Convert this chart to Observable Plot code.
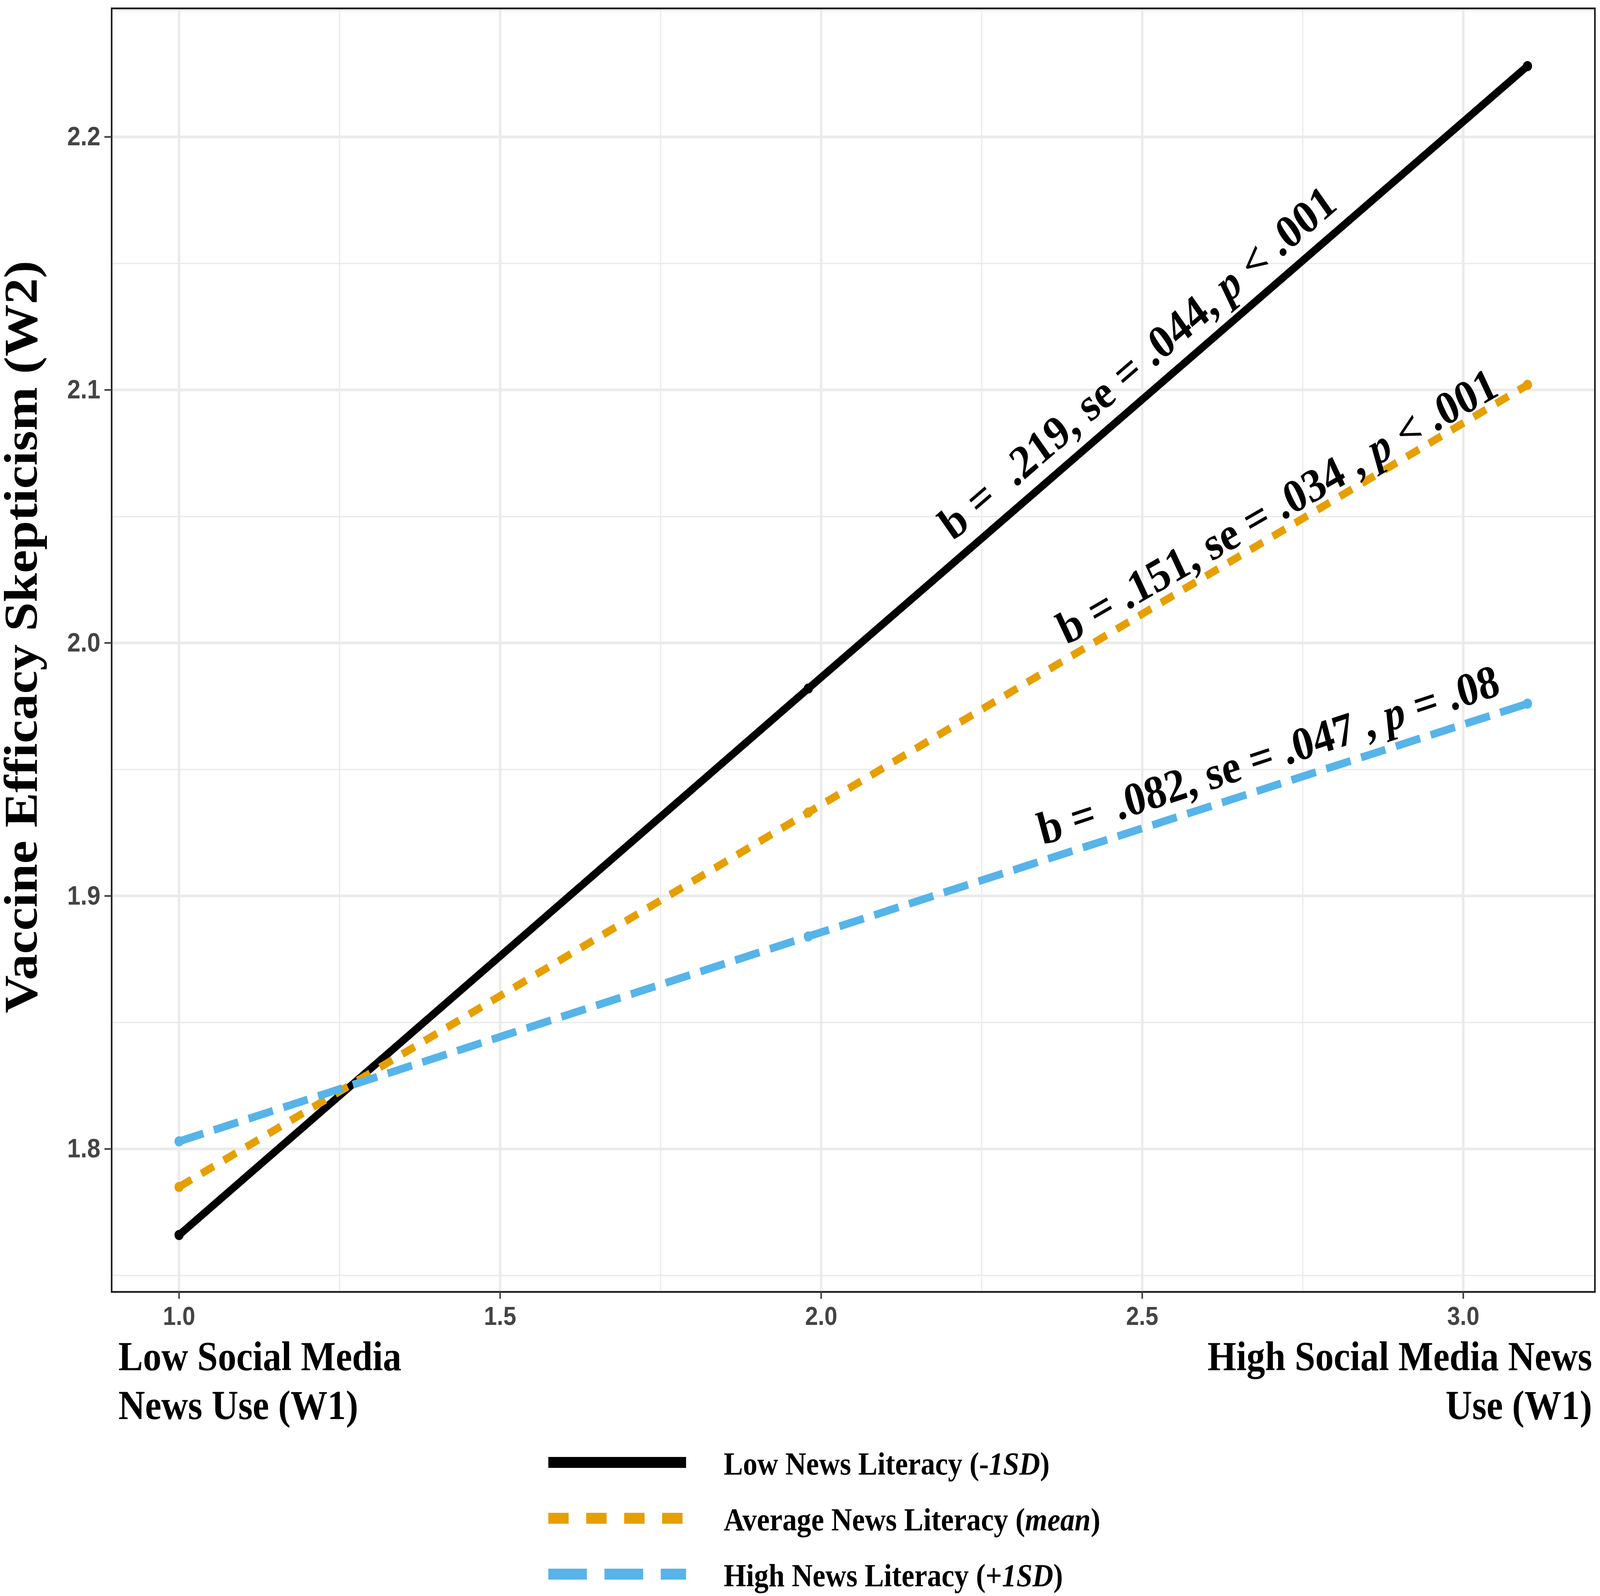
<!DOCTYPE html>
<html>
<head>
<meta charset="utf-8">
<script src="https://cdn.jsdelivr.net/npm/d3@7"></script>
<script src="https://cdn.jsdelivr.net/npm/@observablehq/plot@0.6"></script>
<style>
  html, body { margin: 0; padding: 0; background: #fff; overflow: hidden; }
  #outer { position: relative; width: 100vw; height: 100vh; overflow: hidden; }
  #wrap { position: absolute; left: 0; top: 0; width: 4550px; height: 4086px; overflow: hidden; transform-origin: 0 0; background: #fff; }
  #wrap > svg { position: absolute; left: 0; top: 0; max-width: none; }
  .legtext { font-family: "Liberation Serif", "Times New Roman", serif; font-weight: bold; font-size: 82px;
             line-height: 1; white-space: nowrap; color: #000; position: absolute; }
</style>
</head>
<body>
<div id="outer"><div id="wrap"></div></div>
<script>
// ---- data ----
const xValues = [1.0, 1.98, 3.1];
const lowLit  = [1.766, 1.982, 2.228];
const avgLit  = [1.785, 1.933, 2.102];
const highLit = [1.803, 1.884, 1.976];
const seriesNames  = ["Low News Literacy (-1SD)", "Average News Literacy (mean)", "High News Literacy (+1SD)"];
const seriesColors = ["#000000", "#E69F00", "#56B4E9"];
const xTicks = [1.0, 1.5, 2.0, 2.5, 3.0];
const xMinor = [1.25, 1.75, 2.25, 2.75];
const yTicks = [1.8, 1.9, 2.0, 2.1, 2.2];
const yMinor = [1.75, 1.85, 1.95, 2.05, 2.15, 2.25];
const annotText  = ["b =\u00a0\u00a0.219, se = .044, p < .001", "b = .151, se = .034 , p < .001", "b =\u00a0\u00a0.082, se = .047 , p = .08"];
const annotX     = [2.205, 2.382, 2.345];
const annotY     = [2.040, 1.999, 1.920];
const annotAngle = [-37.9, -27.5, -16.5];
const yTitle = "Vaccine Efficacy Skepticism (W2)";
const xLabelLeft  = ["Low Social Media", "News Use (W1)"];
const xLabelRight = ["High Social Media News", "Use (W1)"];

// ---- styles ----
const dashes = [null, "40,32", "72,31"];
const serif = "Liberation Serif";
const sans = "Liberation Sans";

const rows = [];
[lowLit, avgLit, highLit].forEach((vals, s) =>
  vals.forEach((v, i) => rows.push({series: seriesNames[s], x: xValues[i], y: v})));
const annots = annotText.map((t, i) => ({t, x: annotX[i], y: annotY[i], a: annotAngle[i]}));

const lineMarks = seriesNames.map((name, s) =>
  Plot.line(rows.filter(d => d.series === name), {
    x: "x", y: "y", stroke: "series", strokeWidth: 20,
    strokeDasharray: dashes[s] || undefined, strokeLinecap: "butt", strokeLinejoin: "round"
  }));

function xLab(lines, anchor, textAnchor, dx) {
  return lines.map((line, i) => Plot.text([line], {
    text: d => d, frameAnchor: anchor, textAnchor, lineAnchor: "bottom",
    dx, dy: [200, 325][i], fontSize: 105, fontWeight: "bold", fontFamily: serif, fill: "#000"
  }));
}

const plot = Plot.plot({
  width: 4550,
  height: 3700,
  marginLeft: 317,
  marginRight: 15,
  marginTop: 21,
  marginBottom: 393,
  x: {domain: [0.895, 3.205]},
  y: {domain: [1.7435, 2.2508]},
  color: {domain: seriesNames, range: seriesColors},
  style: {background: "#fff", maxWidth: "none"},
  marks: [
    Plot.ruleX(xMinor, {stroke: "#ebebeb", strokeWidth: 3.5}),
    Plot.ruleY(yMinor, {stroke: "#ebebeb", strokeWidth: 3.5}),
    Plot.ruleX(xTicks, {stroke: "#ebebeb", strokeWidth: 7}),
    Plot.ruleY(yTicks, {stroke: "#ebebeb", strokeWidth: 7}),
    ...lineMarks,
    Plot.dot(rows, {x: "x", y: "y", fill: "series", r: 13, stroke: "none"}),
    Plot.text(annots, {
      x: "x", y: "y", text: "t", rotate: "a", textAnchor: "start", lineAnchor: "bottom",
      fontSize: 120, fontWeight: "bold", fontFamily: serif, fill: "#000", className: "annot"
    }),
    Plot.frame({stroke: "#1a1a1a", strokeWidth: 4.5}),
    Plot.axisX(xTicks, {
      tickFormat: d3.format(".1f"), tickSize: 18, tickPadding: 20, fontSize: 66,
      fontWeight: "bold", fontFamily: sans, color: "#444", strokeWidth: 4.5, label: null
    }),
    Plot.axisY(yTicks, {
      tickFormat: d3.format(".1f"), tickSize: 20, tickPadding: 12, fontSize: 68,
      fontWeight: "bold", fontFamily: sans, color: "#444", strokeWidth: 4.5, label: null
    }),
    Plot.text([yTitle], {
      text: d => d, frameAnchor: "left", rotate: -90, textAnchor: "middle", lineAnchor: "middle",
      dx: -256, dy: -34, fontSize: 134, fontWeight: "bold", fontFamily: serif, fill: "#000"
    }),
    ...xLab(xLabelLeft, "bottom-left", "start", 19),
    ...xLab(xLabelRight, "bottom-right", "end", -8)
  ]
});

// italic "p" in annotations
d3.select(plot).selectAll("g.annot text").each(function () {
  const t = this.textContent;
  const k = t.indexOf("p");
  if (k < 0) return;
  this.textContent = "";
  const sel = d3.select(this);
  sel.append("tspan").text(t.slice(0, k));
  sel.append("tspan").attr("font-style", "italic").text("p");
  sel.append("tspan").text(t.slice(k + 1));
});

const wrap = document.getElementById("wrap");
wrap.appendChild(plot);

// legend
const legendCenters = [3744, 3887, 4030];
const legendDash = [null, "58,50", "110,50"];
const legendHtml = [
  "Low News Literacy (-<i>1SD</i>)",
  "Average News Literacy (<i>mean</i>)",
  "High News Literacy (+<i>1SD</i>)"
];
seriesNames.forEach((name, s) => {
  const cy = legendCenters[s];
  const svg = d3.create("svg").attr("width", 400).attr("height", 60)
    .style("position", "absolute").style("left", "1559px").style("top", (cy - 30) + "px");
  svg.append("line").attr("x1", 0).attr("x2", 392).attr("y1", 30).attr("y2", 30)
    .attr("stroke", seriesColors[s]).attr("stroke-width", 28)
    .attr("stroke-dasharray", legendDash[s]);
  wrap.appendChild(svg.node());
  const tx = document.createElement("div");
  tx.className = "legtext";
  tx.innerHTML = legendHtml[s];
  tx.style.left = "2058px";
  tx.style.top = (cy - 41 + 4) + "px";
  wrap.appendChild(tx);
});

// fit the 4550x4086 drawing to the actual viewport
function fit() {
  const w = window.innerWidth || 4550, h = window.innerHeight || 4086;
  wrap.style.transform = `scale(${w / 4550}, ${h / 4086})`;
}
fit();
window.addEventListener("resize", fit);
</script>
</body>
</html>
